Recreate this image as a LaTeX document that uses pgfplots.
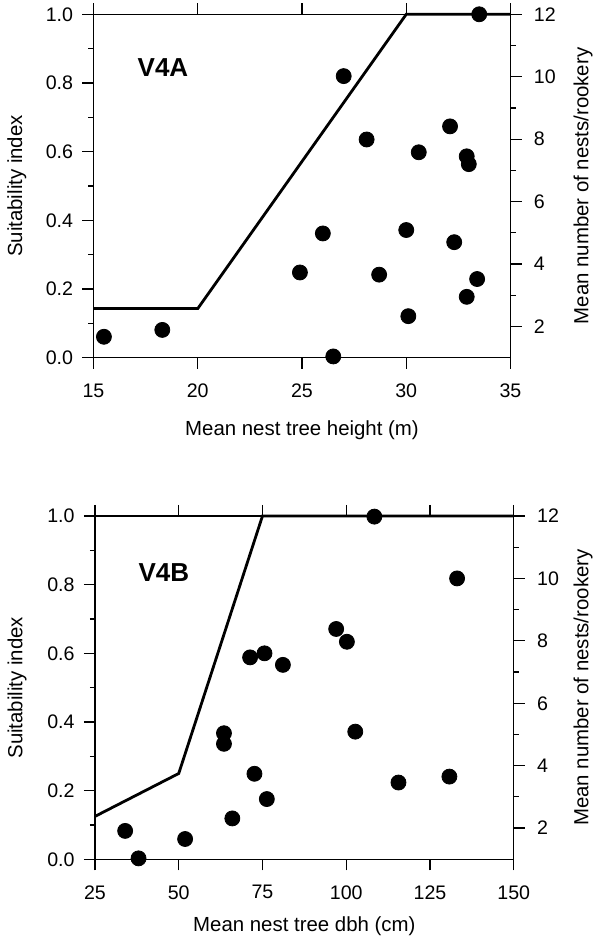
\documentclass[border=0pt]{standalone}
\usepackage{fontspec}
\setmainfont{Liberation Sans}
\usepackage{pgfplots}
\pgfplotsset{compat=1.18}

% 1 px of the 594x943 reference = 0.5pt
\pgfplotsset{
  siaxis/.style={
    scale only axis, clip=false,
    axis line style={line width=0.6pt, black},
    tick style={line width=0.6pt, black},
    major tick length=5.5pt, minor tick length=2.5pt,
    tick align=outside,
    label style={font=\fontsize{10.2}{12}\selectfont},
    tick label style={font=\fontsize{9.8}{11}\selectfont},
    xticklabel style={yshift=-4pt},
    /pgf/number format/assume math mode=true,
  },
  leftaxis/.style={siaxis,
    ymin=0, ymax=1, ytick={0,0.2,0.4,0.6,0.8,1}, minor y tick num=1,
    yticklabel style={xshift=-1.2pt, /pgf/number format/.cd, fixed, fixed zerofill, precision=1},
    xtick pos=both, xticklabel pos=lower, ytick pos=left,
  },
  rightaxis/.style={siaxis,
    ymin=1, ymax=12, ytick={2,4,6,8,10,12}, minor ytick={3,5,7,9,11},
    yticklabel style={xshift=2.7pt},
    axis y line*=right, axis x line=none,
  },
  curve/.style={black, line width=1.4pt, line join=miter},
  dots/.style={only marks, mark=*, mark size=3.75pt, black},
}

\begin{document}
\begin{tikzpicture}
\useasboundingbox (0,0) rectangle (297pt,471.5pt);

% ---------------- V4A : tree height ----------------
\begin{axis}[leftaxis, at={(46.75pt,292.65pt)}, anchor=south west,
  width=208.5pt, height=171.7pt,
  xmin=15, xmax=35, xtick={15,20,25,30,35},
  xlabel={Mean nest tree height (m)},
  ylabel={Suitability index},
  xlabel style={at={(axis description cs:0.5,-0.2105)}, anchor=center},
  ylabel style={at={(axis description cs:-0.184,0.5)}, anchor=center}]
\addplot[curve] coordinates {(15,0.143) (20,0.143) (30,1.0) (35,1.0)};
\node[anchor=west, inner sep=0pt, font=\fontsize{13}{14}\bfseries\selectfont]
  at (axis cs:17.1,0.845) {V4A};
\end{axis}
\begin{axis}[rightaxis, at={(46.75pt,292.65pt)}, anchor=south west,
  width=208.5pt, height=171.7pt,
  xmin=15, xmax=35,
  ylabel={Mean number of nests/rookery},
  ylabel style={at={(axis description cs:1.174,0.5)}, anchor=center, rotate=0}]
\addplot[dots] coordinates {
  (15.5,1.67) (18.3,1.89) (26.5,1.04) (24.9,3.73) (26.0,4.98) (27.0,10.02)
  (28.1,7.99) (28.7,3.66) (30.0,5.09) (30.1,2.33) (30.6,7.58) (32.1,8.41)
  (32.3,4.70) (32.9,7.45) (33.0,7.20) (32.9,2.95) (33.4,3.52) (33.5,12.0)};
\end{axis}

% ---------------- V4B : tree dbh ----------------
\begin{axis}[leftaxis, at={(47.5pt,41.85pt)}, anchor=south west,
  width=209.35pt, height=171.65pt,
  xmin=25, xmax=150, xtick={25,50,75,100,125,150},
  xlabel={Mean nest tree dbh (cm)},
  ylabel={Suitability index},
  xlabel style={at={(axis description cs:0.5,-0.194)}, anchor=center},
  ylabel style={at={(axis description cs:-0.186,0.5)}, anchor=center}]
\addplot[curve] coordinates {(25,0.125) (50,0.25) (75,1.0) (150,1.0)};
\node[anchor=west, inner sep=0pt, font=\fontsize{13}{14}\bfseries\selectfont]
  at (axis cs:37.9,0.835) {V4B};
\end{axis}
\begin{axis}[rightaxis, at={(47.5pt,41.85pt)}, anchor=south west,
  width=209.35pt, height=171.65pt,
  xmin=25, xmax=150,
  ylabel={Mean number of nests/rookery},
  ylabel style={at={(axis description cs:1.1655,0.5)}, anchor=center, rotate=0}]
\addplot[dots] coordinates {
  (34.0,1.91) (38.0,1.03) (51.9,1.65) (66.0,2.31) (63.5,5.04) (63.5,4.70)
  (72.6,3.74) (76.3,2.93) (71.3,7.47) (75.6,7.60) (81.1,7.23) (97.0,8.38)
  (100.2,7.97) (102.7,5.09) (108.4,11.98) (115.6,3.46) (130.8,3.65) (133.1,10.0)};
\end{axis}
\end{tikzpicture}
\end{document}
